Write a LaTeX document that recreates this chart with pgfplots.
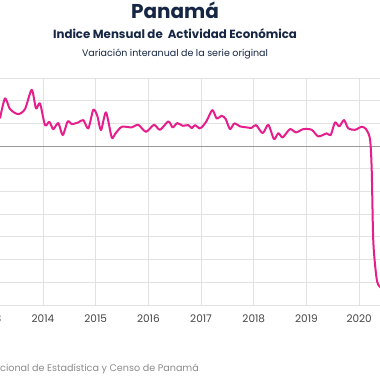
\documentclass[border=0pt]{standalone}
\usepackage{pgfplots}
\pgfplotsset{compat=1.18}
\usepackage{fontspec}
\setmainfont{Poppins}
\definecolor{linec}{RGB}{230,30,140}
\definecolor{titc}{RGB}{22,38,68}
\definecolor{gridc}{RGB}{226,226,226}
\definecolor{tickc}{RGB}{70,70,70}
\definecolor{srcc}{RGB}{140,140,140}
\begin{document}
\begin{tikzpicture}
\useasboundingbox (0pt,0pt) rectangle (380pt,-380pt);
\clip (0pt,0pt) rectangle (380pt,-380pt);
\fill[white] (0pt,0pt) rectangle (380pt,-380pt);
\begin{axis}[
  at={(-22.875pt,-78pt)}, anchor=north west,
  x=52.7pt, y=4.54pt,
  xmin=2012.75, xmax=2020.75, ymin=-35, ymax=15,
  axis line style={draw=none},
  xtick={2013,2014,2015,2016,2017,2018,2019,2020},
  xticklabels={2013,2014,2015,2016,2017,2018,2019,2020},
  ytick={-35,-30,-25,-20,-15,-10,-5,0,5,10,15},
  yticklabels={},
  tick style={draw=none},
  grid=major,
  major grid style={draw=gridc, line width=0.9pt},
  xticklabel style={anchor=base, yshift=-17.5pt, font=\fontsize{10.5}{11}\selectfont, text=tickc},
]
\draw[color=gray!80, line width=0.8pt] (axis cs:2012.75,0) -- (axis cs:2020.75,0);
\addplot[color=linec, line width=2pt, line join=round, mark=none, smooth, tension=0.45] coordinates {
(2013.184,6.10) (2013.279,10.51) (2013.374,8.15) (2013.526,7.05) (2013.658,8.15)
(2013.786,12.40) (2013.867,8.30) (2013.943,9.41) (2014.038,4.63) (2014.120,5.35)
(2014.195,3.74) (2014.290,5.07) (2014.374,2.42) (2014.469,5.44) (2014.545,4.85)
(2014.670,5.22) (2014.765,5.73) (2014.860,3.90) (2014.954,8.00) (2015.030,6.67)
(2015.101,3.52) (2015.195,7.42) (2015.304,1.92) (2015.366,2.64) (2015.493,4.25)
(2015.683,4.12) (2015.808,4.69) (2015.954,3.15) (2016.106,4.69) (2016.220,3.59)
(2016.378,5.44) (2016.461,4.12) (2016.548,5.07) (2016.651,4.47) (2016.757,4.63)
(2016.822,3.96) (2016.884,4.63) (2016.966,3.90) (2017.011,4.12) (2017.106,5.57)
(2017.213,7.93) (2017.296,6.10) (2017.391,6.67) (2017.467,5.95) (2017.548,3.74)
(2017.630,5.00) (2017.738,4.34) (2017.865,4.12) (2017.960,4.03) (2018.042,4.63)
(2018.169,2.86) (2018.275,4.69) (2018.383,1.54) (2018.465,2.86) (2018.548,1.92)
(2018.687,3.74) (2018.801,3.02) (2018.939,3.74) (2019.099,3.59) (2019.224,2.14)
(2019.383,2.80) (2019.459,2.42) (2019.541,5.22) (2019.622,4.34) (2019.712,5.73)
(2019.793,3.90) (2019.920,3.59) (2020.047,4.25) (2020.129,3.74) (2020.205,1.54)
(2020.237,-5.07) (2020.268,-21.15) (2020.332,-29.30) (2020.395,-31.06) (2020.490,-31.50)
};
\end{axis}
\node[font=\bfseries\fontsize{20}{22}\selectfont, text=titc] at (175pt,-10pt) {Panamá};
\node[font=\bfseries\fontsize{11.8}{13}\selectfont, text=titc] at (175pt,-34pt) {Indice Mensual de\ \ Actividad Económica};
\node[font=\fontsize{9.5}{11}\selectfont, text=titc] at (175pt,-54pt) {Variación interanual de la serie original};
\node[font=\fontsize{9.6}{11}\selectfont, text=srcc, anchor=west, inner sep=0pt] at (0pt,-369pt) {cional de Estadística y Censo de Panamá};
\end{tikzpicture}
\end{document}
